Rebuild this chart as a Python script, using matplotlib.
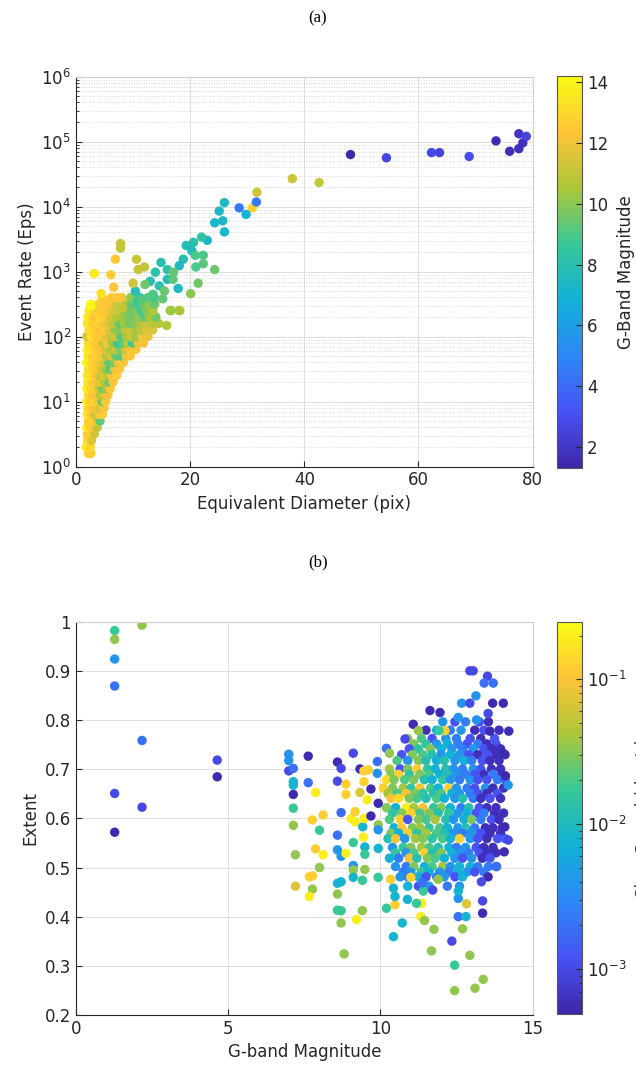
import numpy as np
import matplotlib
matplotlib.use("Agg")
import matplotlib.pyplot as plt
from matplotlib.colors import LinearSegmentedColormap, LogNorm
from matplotlib.ticker import LogLocator, FuncFormatter

# MATLAB parula, 8 anchor colours
PARULA = LinearSegmentedColormap.from_list("parula", [
    (0.2422, 0.1504, 0.6603), (0.2810, 0.3228, 0.9579), (0.1786, 0.5289, 0.9682),
    (0.0689, 0.6948, 0.8394), (0.2161, 0.7843, 0.5923), (0.6720, 0.7793, 0.2227),
    (0.9970, 0.7659, 0.2199), (0.9769, 0.9839, 0.0805)])

# ---- panel (a): dense wedge, one row per log10(event rate) level ----
# (log10 rate, diameters, G magnitudes)
wedge_a = [
    (0.2, [2.2, 2.6], [12.5, 12.7]),
    (0.3, [1.8, 2.5], [13.6, 12.9]),
    (0.4, [2.0, 2.7], [13.2, 11.6]),
    (0.5, [2.0, 2.8, 3.2], [12.4, 12.8, 11.3]),
    (0.6, [1.9, 2.5, 3.3, 3.7], [13.8, 12.6, 12.2, 11.0]),
    (0.7, [2.2, 2.9, 3.6, 4.2], [12.5, 13.0, 12.2, 9.3]),
    (0.8, [2.0, 2.7, 3.4, 4.1, 4.6], [13.5, 12.4, 11.0, 12.3, 12.6]),
    (0.9, [2.1, 2.8, 3.5, 4.2, 4.9], [12.9, 12.5, 12.0, 11.5, 12.4]),
    (1.0, [1.9, 2.6, 3.2, 3.9, 4.6, 5.2], [13.7, 12.6, 12.9, 12.3, 9.5, 12.5]),
    (1.1, [2.2, 2.9, 3.6, 4.3, 5.0, 5.6], [13.0, 12.4, 12.2, 10.8, 11.6, 12.3]),
    (1.2, [1.9, 2.6, 3.3, 4.0, 4.7, 5.4, 6.0], [13.8, 12.8, 12.5, 11.2, 9.6, 10.5, 12.4]),
    (1.3, [2.1, 2.8, 3.5, 4.3, 5.0, 5.8, 6.5], [13.4, 12.6, 12.3, 11.9, 10.8, 9.4, 12.2]),
    (1.4, [2.0, 2.7, 3.4, 4.1, 4.9, 5.6, 6.3, 7.1],
     [13.6, 13.1, 12.4, 11.0, 11.8, 10.6, 12.3, 12.6]),
    (1.5, [2.2, 2.9, 3.7, 4.5, 5.3, 6.0, 6.8, 7.6],
     [13.2, 12.7, 12.5, 11.3, 10.2, 9.3, 12.0, 12.4]),
    (1.6, [1.9, 2.7, 3.4, 4.2, 5.0, 5.8, 6.6, 7.4, 8.3],
     [13.9, 12.9, 12.5, 12.1, 11.2, 9.2, 9.7, 12.3, 12.5]),
    (1.7, [2.1, 2.9, 3.7, 4.5, 5.3, 6.2, 7.0, 7.9, 8.8, 9.5],
     [13.5, 12.6, 12.8, 12.2, 10.9, 11.5, 9.5, 9.1, 12.2, 12.4]),
    (1.8, [2.0, 2.8, 3.6, 4.4, 5.2, 6.0, 6.9, 7.8, 8.7, 9.6, 10.5],
     [13.7, 13.2, 12.5, 12.3, 11.7, 10.6, 11.0, 9.8, 11.4, 12.3, 12.4]),
    (1.9, [2.2, 3.0, 3.8, 4.7, 5.5, 6.4, 7.3, 8.1, 9.0, 9.9, 10.9, 11.8],
     [13.1, 12.7, 12.4, 11.1, 12.2, 10.4, 8.6, 9.2, 10.8, 8.8, 12.1, 12.3]),
    (2.0, [1.9, 2.7, 3.5, 4.4, 5.2, 6.1, 7.0, 7.9, 8.8, 9.7, 10.6, 11.6, 12.6],
     [11.4, 13.4, 12.6, 12.2, 11.8, 10.9, 11.3, 9.0, 10.5, 11.1, 10.3, 12.0, 11.9]),
    (2.1, [2.3, 3.2, 4.1, 5.0, 5.9, 6.8, 7.7, 8.6, 9.5, 10.5, 11.4, 12.4, 13.4],
     [13.0, 12.8, 12.3, 12.5, 11.6, 10.2, 9.7, 10.8, 11.2, 10.4, 11.0, 11.5, 11.6]),
    (2.2, [2.0, 2.9, 3.9, 4.8, 5.7, 6.6, 7.6, 8.5, 9.4, 10.4, 11.4, 12.4, 13.4, 14.5],
     [13.3, 12.5, 12.7, 12.1, 11.5, 10.9, 9.4, 10.3, 9.6, 10.1, 10.7, 11.2, 10.9, 10.8]),
    (2.3, [2.1, 3.1, 4.1, 5.1, 6.0, 7.0, 8.0, 9.0, 10.0, 11.0, 12.0, 13.0, 14.0],
     [13.6, 12.4, 12.9, 12.6, 11.4, 10.8, 10.4, 9.9, 9.5, 10.2, 9.3, 10.5, 9.6]),
    (2.4, [2.3, 3.3, 4.3, 5.3, 6.3, 7.4, 8.4, 9.4, 10.4, 11.4, 12.4, 13.5, 16.7, 18.2],
     [13.4, 12.7, 12.6, 12.3, 11.6, 11.1, 10.0, 9.6, 9.8, 8.9, 9.9, 10.6, 10.3, 10.6]),
    (2.5, [2.6, 4.0, 5.5, 7.0, 8.6, 9.8, 10.7, 11.8, 12.8, 13.8],
     [14.0, 12.6, 12.4, 11.2, 10.6, 9.4, 9.0, 9.7, 10.2, 9.5]),
    (2.6, [4.6, 6.2, 8.0, 9.6, 10.5, 11.2, 12.6, 13.7],
     [12.6, 12.8, 12.2, 10.1, 9.8, 8.6, 9.2, 8.9]),
]

# isolated points above the wedge: (diameter, log10 rate, G magnitude)
sparse_a = [
    (48.1, 4.80, 1.5), (54.4, 4.75, 2.6), (62.3, 4.83, 2.8), (63.7, 4.83, 2.6),
    (68.9, 4.77, 3.0), (73.6, 5.01, 1.6), (76.0, 4.85, 1.7), (77.6, 4.89, 1.7),
    (77.6, 5.12, 1.9), (78.3, 4.98, 1.8), (78.9, 5.08, 2.6),
    (37.9, 4.43, 11.2), (42.6, 4.37, 11.1), (31.7, 4.22, 11.2), (30.9, 3.98, 12.8),
    (31.6, 4.07, 4.5), (28.6, 3.98, 4.5), (29.8, 3.88, 7.0), (26.0, 4.06, 7.4),
    (25.1, 3.93, 7.3), (24.3, 3.75, 7.2), (25.7, 3.78, 7.3), (26.0, 3.61, 7.3),
    (23.0, 3.48, 7.3), (22.0, 3.53, 8.4), (20.6, 3.45, 8.0), (19.3, 3.40, 7.8),
    (20.3, 3.32, 7.6), (20.9, 3.25, 9.0), (22.3, 3.25, 9.0), (22.3, 3.12, 9.2),
    (21.0, 3.07, 9.0), (24.3, 3.03, 9.5), (21.4, 2.82, 9.6), (20.1, 2.66, 10.0),
    (18.8, 3.19, 8.0), (18.1, 3.09, 7.4), (16.0, 3.03, 8.2), (17.1, 2.99, 9.4),
    (14.9, 3.14, 8.0), (13.9, 2.99, 8.1), (13.0, 2.85, 7.9), (14.6, 2.78, 8.2),
    (16.0, 2.88, 7.6), (17.9, 2.74, 7.4), (10.4, 2.70, 7.8), (10.9, 2.55, 8.4),
    (11.4, 2.55, 9.2), (16.5, 2.40, 10.3), (18.1, 2.40, 10.5), (15.9, 2.17, 10.6),
    (7.8, 3.43, 11.1), (7.8, 3.36, 11.0), (6.9, 3.19, 12.5), (10.6, 3.19, 11.2),
    (10.9, 3.03, 11.1), (12.0, 3.07, 11.0), (6.1, 2.95, 12.6), (3.2, 2.97, 13.6),
    (10.0, 2.82, 11.3), (6.6, 2.76, 12.4), (4.4, 2.66, 13.3), (2.6, 2.47, 14.0),
    (5.9, 2.56, 12.4), (7.1, 2.60, 12.5), (8.1, 2.43, 11.0), (15.5, 2.70, 9.5),
    (17.0, 2.88, 9.3), (15.2, 2.58, 9.4), (13.5, 2.65, 9.0), (12.1, 2.80, 9.6),
]

# ---- panel (b): dense core, one row per extent level ----
# (extent, G magnitudes, slew speed deg/s)
core_b = [
    (0.797, [12.05, 12.45, 12.8, 13.25, 13.55], [0.004, 0.0012, 0.0025, 0.0012, 0.0006]),
    (0.780, [11.5, 11.85, 12.3, 12.65, 13.1, 13.4, 13.9],
     [0.0006, 0.007, 0.0025, 0.004, 0.0006, 0.0012, 0.0006]),
    (0.763, [11.35, 11.7, 12.15, 12.5, 12.95, 13.3, 13.75],
     [0.02, 0.0012, 0.004, 0.0025, 0.0012, 0.0006, 0.0012]),
    (0.752, [11.1, 11.5, 11.85, 12.2, 12.55, 12.85, 13.2, 13.5, 13.8],
     [0.03, 0.015, 0.004, 0.007, 0.0025, 0.0012, 0.0025, 0.0006, 0.0012]),
    (0.742, [10.95, 11.25, 11.65, 12.0, 12.35, 12.7, 13.05, 13.4, 13.65, 13.95],
     [0.0012, 0.015, 0.03, 0.007, 0.004, 0.0025, 0.004, 0.0012, 0.0006, 0.0006]),
    (0.730, [10.7, 11.05, 11.4, 11.7, 12.0, 12.3, 12.6, 12.9, 13.2, 13.5, 13.8, 14.1],
     [0.0012, 0.03, 0.02, 0.012, 0.004, 0.007, 0.004, 0.0012, 0.0006, 0.0012, 0.0006, 0.0006]),
    (0.718, [10.55, 10.9, 11.25, 11.5, 11.85, 12.1, 12.45, 12.75, 13.0, 13.35, 13.6, 13.9],
     [0.02, 0.004, 0.03, 0.012, 0.007, 0.012, 0.004, 0.007, 0.0025, 0.0012, 0.0006, 0.0006]),
    (0.701, [10.3, 10.65, 10.9, 11.2, 11.55, 11.8, 12.15, 12.4, 12.7, 13.05, 13.3, 13.65, 13.95],
     [0.04, 0.0012, 0.03, 0.12, 0.015, 0.007, 0.012, 0.004, 0.0025, 0.004, 0.0012,
      0.0006, 0.0006]),
    (0.690, [10.35, 10.6, 10.95, 11.3, 11.6, 11.95, 12.2, 12.5, 12.8, 13.1, 13.4, 13.7, 14.0],
     [0.03, 0.12, 0.015, 0.03, 0.02, 0.007, 0.012, 0.004, 0.0025, 0.0012, 0.0006, 0.0025,
      0.0006]),
    (0.679, [10.2, 10.45, 10.8, 11.1, 11.45, 11.7, 12.05, 12.3, 12.6, 12.95, 13.2, 13.5,
             13.85, 14.1],
     [0.15, 0.03, 0.02, 0.03, 0.012, 0.007, 0.015, 0.004, 0.0025, 0.004, 0.0012, 0.0012,
      0.0025, 0.0015]),
    (0.662, [10.1, 10.4, 10.75, 11.0, 11.3, 11.65, 11.9, 12.25, 12.5, 12.85, 13.1, 13.45,
             13.7, 14.05],
     [0.12, 0.03, 0.04, 0.015, 0.1, 0.02, 0.007, 0.12, 0.004, 0.0025, 0.0012, 0.004,
      0.0006, 0.0006]),
    (0.651, [10.25, 10.55, 10.85, 11.15, 11.4, 11.75, 12.0, 12.35, 12.6, 12.95, 13.2, 13.5,
             13.85],
     [0.04, 0.02, 0.1, 0.03, 0.015, 0.012, 0.02, 0.007, 0.004, 0.0025, 0.0012, 0.0006,
      0.0012]),
    (0.641, [10.35, 10.6, 10.95, 11.2, 11.5, 11.85, 12.1, 12.45, 12.7, 13.05, 13.3, 13.6, 13.95],
     [0.1, 0.15, 0.03, 0.02, 0.012, 0.02, 0.007, 0.004, 0.012, 0.0025, 0.0006, 0.0012, 0.0006]),
    (0.622, [10.2, 10.5, 10.85, 11.1, 11.4, 11.75, 12.0, 12.3, 12.65, 12.9, 13.25, 13.5, 13.8],
     [0.03, 0.007, 0.2, 0.04, 0.1, 0.015, 0.03, 0.007, 0.0025, 0.012, 0.0012, 0.0006, 0.0006]),
    (0.611, [10.4, 10.7, 11.0, 11.3, 11.6, 11.9, 12.25, 12.55, 12.85, 13.15, 13.4, 13.75, 14.05],
     [0.015, 0.03, 0.12, 0.02, 0.03, 0.012, 0.015, 0.004, 0.007, 0.0012, 0.0025, 0.0006,
      0.0006]),
    (0.598, [10.3, 10.65, 10.9, 11.25, 11.5, 11.8, 12.15, 12.4, 12.75, 13.0, 13.3, 13.65, 13.9],
     [0.02, 0.12, 0.0012, 0.03, 0.02, 0.04, 0.012, 0.004, 0.007, 0.03, 0.0025, 0.0012, 0.0006]),
    (0.581, [10.45, 10.7, 11.05, 11.3, 11.6, 11.95, 12.2, 12.55, 12.8, 13.1, 13.45, 13.7, 14.0],
     [0.007, 0.1, 0.03, 0.04, 0.015, 0.02, 0.007, 0.004, 0.012, 0.0025, 0.0006, 0.0006, 0.0006]),
    (0.570, [10.35, 10.6, 10.9, 11.2, 11.5, 11.85, 12.1, 12.4, 12.7, 13.0, 13.3, 13.6, 13.95],
     [0.03, 0.007, 0.12, 0.015, 0.04, 0.02, 0.012, 0.004, 0.0025, 0.004, 0.0012, 0.0006,
      0.0006]),
    (0.559, [10.25, 10.5, 10.8, 11.15, 11.4, 11.7, 12.05, 12.3, 12.6, 12.95, 13.2, 13.5,
             13.85, 14.1],
     [0.012, 0.1, 0.004, 0.04, 0.03, 0.015, 0.02, 0.007, 0.12, 0.004, 0.0012, 0.0006,
      0.0012, 0.0015]),
    (0.541, [10.4, 10.75, 11.0, 11.35, 11.6, 11.9, 12.25, 12.5, 12.8, 13.15, 13.4, 13.7],
     [0.004, 0.015, 0.03, 0.04, 0.02, 0.012, 0.007, 0.0025, 0.004, 0.0012, 0.0006, 0.0006]),
    (0.530, [10.5, 10.85, 11.1, 11.45, 11.7, 12.0, 12.35, 12.6, 12.9, 13.25, 13.5, 13.8],
     [0.015, 0.004, 0.02, 0.12, 0.012, 0.03, 0.007, 0.004, 0.0025, 0.0012, 0.0006, 0.0006]),
    (0.519, [10.3, 10.6, 10.95, 11.2, 11.55, 11.8, 12.1, 12.45, 12.7, 13.0, 13.35, 13.6],
     [0.007, 0.0025, 0.1, 0.012, 0.03, 0.02, 0.007, 0.004, 0.0012, 0.004, 0.0006, 0.0012]),
    (0.502, [10.5, 10.85, 11.1, 11.45, 11.7, 12.05, 12.3, 12.6, 12.95, 13.2, 13.55, 13.8],
     [0.004, 0.0025, 0.03, 0.007, 0.02, 0.04, 0.004, 0.007, 0.007, 0.0025, 0.0025, 0.0012]),
    (0.491, [10.75, 11.0, 11.35, 11.6, 11.95, 12.25, 12.55, 12.85, 13.1, 13.4],
     [0.0025, 0.004, 0.015, 0.007, 0.004, 0.0025, 0.007, 0.004, 0.0012, 0.0025]),
    (0.481, [10.65, 10.9, 11.25, 11.5, 11.85, 12.1, 12.45, 12.7],
     [0.004, 0.0025, 0.007, 0.0012, 0.0025, 0.004, 0.0012, 0.007]),
    (0.462, [10.9, 11.25, 11.6, 12.2, 12.6], [0.007, 0.0012, 0.004, 0.0025, 0.004]),
]

# scattered points: (G magnitude, extent, slew speed deg/s)
sparse_b = [
    (1.27, 0.983, 0.017), (1.27, 0.965, 0.034), (1.27, 0.925, 0.0038), (1.27, 0.870, 0.002),
    (1.27, 0.651, 0.001), (1.27, 0.572, 0.00055), (2.17, 0.994, 0.034), (2.17, 0.759, 0.002),
    (2.17, 0.623, 0.001), (4.64, 0.719, 0.001), (4.64, 0.685, 0.00055),
    (6.99, 0.731, 0.0038), (6.99, 0.718, 0.0038), (6.99, 0.697, 0.001), (7.14, 0.702, 0.002),
    (7.14, 0.675, 0.008), (7.14, 0.668, 0.008), (7.14, 0.649, 0.00055), (7.14, 0.621, 0.017),
    (7.14, 0.586, 0.034), (7.21, 0.526, 0.034), (7.21, 0.462, 0.07),
    (7.63, 0.727, 0.00055), (7.63, 0.673, 0.002), (7.76, 0.597, 0.12), (7.77, 0.483, 0.12),
    (7.67, 0.481, 0.12), (7.77, 0.456, 0.034), (7.67, 0.441, 0.2), (7.87, 0.653, 0.2),
    (7.87, 0.538, 0.12), (8.0, 0.576, 0.017), (8.0, 0.500, 0.034), (8.12, 0.607, 0.12),
    (8.12, 0.526, 0.2),
    (8.59, 0.715, 0.00055), (8.59, 0.676, 0.001), (8.71, 0.702, 0.001), (8.71, 0.612, 0.002),
    (8.59, 0.566, 0.002), (8.59, 0.536, 0.0038), (8.71, 0.523, 0.0038), (8.59, 0.468, 0.008),
    (8.71, 0.471, 0.008), (8.59, 0.446, 0.034), (8.59, 0.413, 0.017), (8.71, 0.412, 0.017),
    (8.71, 0.387, 0.034), (8.81, 0.324, 0.034),
    (8.87, 0.670, 0.12), (8.87, 0.649, 0.12), (8.87, 0.529, 0.2), (9.04, 0.600, 0.2),
    (9.17, 0.593, 0.2), (9.17, 0.614, 0.12), (9.11, 0.733, 0.001), (9.11, 0.551, 0.017),
    (9.11, 0.504, 0.0038), (9.11, 0.495, 0.034), (9.11, 0.480, 0.008), (9.22, 0.394, 0.2),
    (9.33, 0.653, 0.07), (9.33, 0.701, 0.00055), (9.41, 0.474, 0.017), (9.41, 0.412, 0.034),
    (9.42, 0.583, 0.008), (9.46, 0.675, 0.12), (9.46, 0.600, 0.2), (9.44, 0.562, 0.2),
    (9.49, 0.542, 0.008), (9.49, 0.527, 0.017), (9.49, 0.496, 0.034), (9.46, 0.697, 0.12),
    (9.60, 0.699, 0.12), (9.57, 0.638, 0.2), (9.69, 0.660, 0.00055), (9.69, 0.605, 0.00055),
    (9.90, 0.716, 0.002), (9.90, 0.692, 0.0038), (9.93, 0.631, 0.00055), (9.93, 0.587, 0.034),
    (9.93, 0.577, 0.0038), (9.93, 0.539, 0.008), (9.93, 0.480, 0.017),
    (10.2, 0.743, 0.002), (10.3, 0.733, 0.034), (10.2, 0.417, 0.017), (10.43, 0.359, 0.008),
    (10.72, 0.387, 0.008), (10.48, 0.424, 0.12), (10.48, 0.441, 0.008), (10.43, 0.458, 0.008),
    (10.34, 0.476, 0.12), (10.89, 0.435, 0.008), (11.36, 0.427, 0.2), (11.33, 0.400, 0.2),
    (11.45, 0.392, 0.034), (11.76, 0.374, 0.034), (11.68, 0.330, 0.034), (12.35, 0.350, 0.001),
    (12.56, 0.400, 0.002), (12.81, 0.400, 0.008), (12.70, 0.375, 0.034), (12.94, 0.321, 0.034),
    (12.44, 0.301, 0.017), (12.44, 0.249, 0.034), (13.11, 0.254, 0.034), (13.38, 0.272, 0.034),
    (12.83, 0.426, 0.07), (13.36, 0.432, 0.001), (13.36, 0.407, 0.00055), (12.56, 0.437, 0.0038),
    (12.56, 0.452, 0.008), (11.41, 0.452, 0.017), (11.19, 0.427, 0.017), (11.72, 0.454, 0.001),
    (11.39, 0.469, 0.002), (11.0, 0.480, 0.12), (11.9, 0.476, 0.034),
    (12.94, 0.901, 0.001), (13.05, 0.901, 0.001), (13.52, 0.890, 0.001), (13.41, 0.876, 0.002),
    (13.71, 0.876, 0.002), (13.14, 0.850, 0.0038), (12.67, 0.835, 0.0038), (12.94, 0.835, 0.001),
    (13.69, 0.835, 0.00055), (14.04, 0.835, 0.00055), (11.63, 0.820, 0.00055),
    (11.96, 0.816, 0.00055), (12.56, 0.806, 0.0038), (13.16, 0.801, 0.0038), (13.54, 0.814, 0.001),
    (11.08, 0.792, 0.00055), (11.25, 0.779, 0.034), (12.12, 0.779, 0.12), (11.93, 0.779, 0.017),
    (10.9, 0.763, 0.034), (10.81, 0.762, 0.001), (13.6, 0.778, 0.00055), (14.22, 0.778, 0.00055),
    (14.04, 0.733, 0.00055), (14.11, 0.687, 0.00055), (14.2, 0.668, 0.0038),
    (14.09, 0.583, 0.00055), (14.2, 0.556, 0.001), (14.07, 0.532, 0.00055), (13.82, 0.502, 0.002),
    (13.54, 0.481, 0.00055), (13.32, 0.471, 0.001),
]

GMAG_LIM = (1.3, 14.2)
SPEED_LIM = (4.9e-4, 0.248)
DARK = "#262626"
GRID = "#dedede"
DOT = 46


def flatten_rows(rows):
    xs, ys, cs = [], [], []
    for level, xrow, crow in rows:
        xs += list(xrow)
        ys += [level] * len(xrow)
        cs += list(crow)
    return xs, ys, cs


def style_axes(ax):
    ax.tick_params(which="both", direction="in", colors=DARK, labelsize=12)
    ax.tick_params(which="major", length=4)
    ax.tick_params(which="minor", length=2.5)
    for side in ("left", "bottom"):
        ax.spines[side].set_color(DARK)
    for side in ("top", "right"):
        ax.spines[side].set_color("#cfcfcf")
    ax.set_axisbelow(True)


def style_cbar(cb, label):
    cb.ax.tick_params(which="both", direction="in", colors=DARK, labelsize=12)
    cb.ax.tick_params(which="major", length=4)
    cb.ax.tick_params(which="minor", length=2)
    cb.outline.set_edgecolor("#555555")
    cb.set_label(label, fontsize=12, color=DARK, labelpad=6)


fig = plt.figure(figsize=(6.36, 10.72), dpi=100)
fig.text(0.5, 0.983, "(a)", ha="center", va="center", family="Liberation Serif", fontsize=12)
fig.text(0.5, 0.4757, "(b)", ha="center", va="center", family="Liberation Serif", fontsize=12)

# (a) event rate vs equivalent diameter
w_x, w_y, w_c = flatten_rows(wedge_a)
s_x, s_y, s_c = zip(*sparse_a)
diam = np.array(w_x + list(s_x))
log_rate = np.array(w_y + list(s_y))
gmag = np.array(w_c + list(s_c))

ax_a = fig.add_axes([0.1195, 0.5648, 0.7178, 0.3638])
cax_a = fig.add_axes([0.8753, 0.5630, 0.0403, 0.3661])
sc_a = ax_a.scatter(diam, 10 ** log_rate, c=gmag, cmap=PARULA, vmin=GMAG_LIM[0],
                    vmax=GMAG_LIM[1], s=DOT, linewidths=0)
ax_a.set_yscale("log")
ax_a.set_xlim(0, 80)
ax_a.set_ylim(1, 1e6)
ax_a.set_xticks([0, 20, 40, 60, 80])
ax_a.yaxis.set_major_locator(LogLocator(base=10, numticks=10))
ax_a.yaxis.set_minor_locator(LogLocator(base=10, subs=np.arange(2, 10), numticks=10))
ax_a.grid(True, which="major", color=GRID, lw=0.7)
ax_a.grid(True, which="minor", axis="y", color="#cccccc", lw=0.6, ls=(0, (1, 2)))
ax_a.set_xlabel("Equivalent Diameter (pix)", fontsize=12, color=DARK)
ax_a.set_ylabel("Event Rate (Eps)", fontsize=12, color=DARK)
style_axes(ax_a)

cb_a = fig.colorbar(sc_a, cax=cax_a)
cb_a.set_ticks([2, 4, 6, 8, 10, 12, 14])
style_cbar(cb_a, "G-Band Magnitude")

# (b) extent vs G-band magnitude
c_x, c_y, c_c = flatten_rows(core_b)
p_x, p_y, p_c = zip(*sparse_b)
gmag_b = np.array(c_x + list(p_x))
extent = np.array(c_y + list(p_y))
speed = np.array(c_c + list(p_c))

ax_b = fig.add_axes([0.1195, 0.05345, 0.7178, 0.3661])
cax_b = fig.add_axes([0.8753, 0.0541, 0.0403, 0.3657])
sc_b = ax_b.scatter(gmag_b, extent, c=speed, cmap=PARULA,
                    norm=LogNorm(vmin=SPEED_LIM[0], vmax=SPEED_LIM[1]), s=DOT, linewidths=0)
ax_b.set_xlim(0, 15)
ax_b.set_ylim(0.2, 1)
ax_b.set_xticks([0, 5, 10, 15])
ax_b.set_yticks(np.arange(2, 11) / 10)
ax_b.yaxis.set_major_formatter(FuncFormatter(lambda v, _: f"{v:g}"))
ax_b.grid(True, which="major", color=GRID, lw=0.7)
ax_b.set_xlabel("G-band Magnitude", fontsize=12, color=DARK)
ax_b.set_ylabel("Extent", fontsize=12, color=DARK)
style_axes(ax_b)

cb_b = fig.colorbar(sc_b, cax=cax_b)
style_cbar(cb_b, "Slew Speed (deg/s)")

fig.savefig("out.png", dpi=100)
